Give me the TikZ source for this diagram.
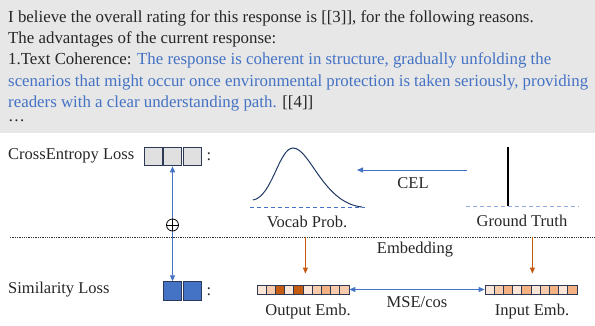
\documentclass[tikz,border=0pt]{standalone}
\usepackage{fontspec}
\setmainfont{Liberation Serif}
\usetikzlibrary{arrows.meta,calc}
\definecolor{bgray}{HTML}{E7E7E7}
\definecolor{tblue}{HTML}{4472C4}
\definecolor{lblue}{HTML}{8FAADC}
\definecolor{navy}{HTML}{1F3864}
\definecolor{edgec}{HTML}{2E3A55}
\definecolor{org}{HTML}{C55A11}
\definecolor{ea}{HTML}{FBE5D6}
\definecolor{eb}{HTML}{F8CBAD}
\definecolor{ec}{HTML}{F4B183}
\definecolor{ed}{HTML}{C55A11}
\definecolor{boxgray}{HTML}{E0E0E0}
\definecolor{txtc}{HTML}{262626}
\begin{document}
\begin{tikzpicture}[x=1pt,y=-1pt,
  txt/.style={font=\fontsize{16.85}{19}\selectfont, text=txtc, inner sep=0pt, anchor=base west},
  lbl/.style={font=\fontsize{16.5}{19}\selectfont, text=txtc, inner sep=0pt},
  sq/.style={draw=edgec, line width=1pt, minimum width=18pt, minimum height=18.5pt, inner sep=0pt},
  cell/.style={draw=edgec, line width=0.8pt, minimum width=9.2pt, minimum height=9pt, inner sep=0pt},
  barrow/.style={draw=tblue, line width=0.9pt},
  tip/.style={-{Triangle[length=6pt,width=5pt]}},
  oarrow/.style={draw=org, line width=0.9pt, -{Triangle[length=6pt,width=5pt]}},
  dline/.style={line width=1pt, dash pattern=on 4pt off 3pt}
]
\useasboundingbox (0,0) rectangle (595,325);
\fill[bgray] (0,0) rectangle (595,133);
% text block
\node[txt] (l1) at (8,22) {I believe the overall rating for this response is [[3]], for the following reasons.};
\node[txt] (l2) at (8,43) {The advantages of the current response:};
\node[txt] (l3) at (8,64) {1.Text Coherence: \textcolor{tblue}{The response is coherent in structure, gradually unfolding the}};
\node[txt] (l4) at (8,86) {\textcolor{tblue}{\makebox[580pt][s]{scenarios that might occur once environmental protection is taken seriously, providing}}};
\node[txt] (l5) at (8,107) {\textcolor{tblue}{readers with a clear understanding path.} [[4]]};
\node[txt, text height=2pt, text depth=0pt] (l6) at (8,121) {…};
% left labels
\node[lbl, anchor=west] (ce) at (8,156) {CrossEntropy Loss};
\node[sq, fill=boxgray] (g1) at (153,156.5) {};
\node[sq, fill=boxgray] (g2) at (172.5,156.5) {};
\node[sq, fill=boxgray] (g3) at (192,156.5) {};
\node[lbl] (c1) at (209,157) {:};
\node[lbl, anchor=west] (sl) at (8,290) {Similarity Loss};
\node[sq, fill=tblue] (b1) at (172.5,291) {};
\node[sq, fill=tblue] (b2) at (192,291) {};
\node[lbl] (c2) at (209,292) {:};
\draw[barrow, {Triangle[length=6pt,width=5pt]}-{Triangle[length=6pt,width=5pt]}] (g2.south) -- (b1.north);
\node[circle, draw=black, fill=white, line width=0.8pt, minimum size=12pt, inner sep=0pt,
  path picture={\draw[line width=0.8pt] (path picture bounding box.north) -- (path picture bounding box.south)
   (path picture bounding box.west) -- (path picture bounding box.east);}] (op) at (172.5,225) {};
% dotted separator
\coordinate (dl) at (10,237);
\coordinate (dr) at (595,237);
\draw[line width=0.8pt, dash pattern=on 1.3pt off 1pt, black!80] (dl) -- (dr);
% gaussian
\coordinate (gs) at (253,200);
\coordinate (gp) at (293,148);
\coordinate (ge) at (362,207);
\draw[navy, line width=1pt] (gs) .. controls (272,197) and (279,148) .. (gp) .. controls (310,148) and (323,203) .. (ge);
\coordinate (vbl) at (250,207);
\coordinate (vbr) at (365,207);
\draw[tblue, dline] (vbl) -- (vbr);
\node[lbl] (vp) at (307,222) {Vocab Prob.};
% ground truth
\coordinate (gtt) at (508,147);
\coordinate (gtb) at (508,206);
\draw[black, line width=1.1pt] (gtt) -- (gtb);
\coordinate (gbl) at (466,206);
\coordinate (gbr) at (579,206);
\draw[lblue, dline] (gbl) -- (gbr);
\node[lbl] (gt) at (522,221) {Ground Truth};
% CEL arrow
\coordinate (cels) at (467,170);
\coordinate (cele) at (357,170);
\draw[barrow, tip] (cels) -- (cele);
\node[lbl] (cel) at (413,183) {CEL};
% embeddings
\foreach \c [count=\i] in {ea,eb,ed,ea,ed,ea,eb,ec,eb,eb}
  \node[cell, fill=\c] (o\i) at ({261.6+(\i-1)*9.2}, 289.5) {};
\foreach \c [count=\i] in {ea,eb,ec,ea,ec,ea,eb,ec,ea,ec}
  \node[cell, fill=\c] (i\i) at ({489.6+(\i-1)*9.2}, 289.5) {};
\draw[barrow, {Triangle[length=6pt,width=5pt]}-{Triangle[length=6pt,width=5pt]}] (o10.east) -- (i1.west);
\node[lbl] (mse) at (417,302) {MSE/cos};
\node[lbl] (oe) at (308,312) {Output Emb.};
\node[lbl] (ie) at (532,312) {Input Emb.};
\node[lbl] (emb) at (415,250) {Embedding};
\coordinate (oas) at ($(o5.north east)+(2,-48)$);
\coordinate (oae) at ($(o5.north east)+(2,-11)$);
\coordinate (ias) at ($(i5.north east)+(1,-48)$);
\coordinate (iae) at ($(i5.north east)+(1,-11)$);
\draw[oarrow] (oas) -- (oae);
\draw[oarrow] (ias) -- (iae);
\end{tikzpicture}
\end{document}
